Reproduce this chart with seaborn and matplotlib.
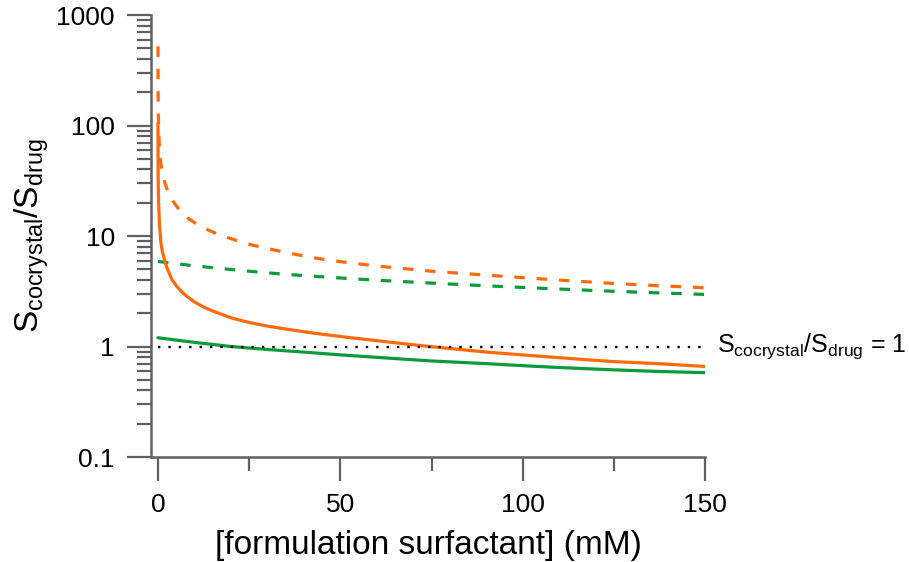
import matplotlib
matplotlib.use("Agg")
import matplotlib.pyplot as plt
import matplotlib.ticker as mticker
import matplotlib.transforms as mtransforms
import numpy as np
import seaborn as sns

# Surfactant concentration (mM) and solubility ratios for each curve
orange_solid_x = [0.005, 0.02, 0.05, 0.1, 0.2, 0.4, 0.8, 1.2, 1.9, 2.5, 3.8, 5,
                  6.5, 8, 10, 12, 14.3, 16, 20, 25, 30, 35, 40, 46, 52, 58, 64,
                  72, 80, 90, 104, 115, 125, 137, 150]
orange_solid_y = [105, 55, 36, 25.5, 18.5, 12.8, 8.7, 7.2, 5.9, 5.1, 4.05, 3.55,
                  3.13, 2.83, 2.53, 2.32, 2.14, 2.04, 1.82, 1.65, 1.53, 1.44, 1.36, 1.28, 1.21, 1.15, 1.09,
                  1.02, 0.96, 0.89, 0.82, 0.77, 0.73, 0.70, 0.66]

orange_dash_x = [0.005, 0.02, 0.05, 0.1, 0.2, 0.4, 0.8, 1.3, 1.9, 3, 4.4, 6,
                 8.3, 11, 13.4, 16, 19, 24.4, 30, 35, 41, 46, 52, 60, 68, 75,
                 87, 100, 112, 125, 137, 150]
orange_dash_y = [520, 270, 175, 125, 90, 63, 45, 36, 30, 24, 20, 17,
                 14.4, 12.6, 11.5, 10.5, 9.7, 8.5, 7.7, 7.1, 6.5, 6.1, 5.75, 5.35, 5.05, 4.8,
                 4.5, 4.2, 3.95, 3.72, 3.55, 3.4]

green_solid_x = [0, 10, 20, 30, 40, 50, 62, 75, 90, 104, 115, 125, 137, 150]
green_solid_y = [1.2, 1.09, 1.0, 0.94, 0.89, 0.84, 0.79, 0.74, 0.70, 0.66, 0.635,
                 0.615, 0.595, 0.58]

green_dash_x = [0, 10, 18, 25, 35, 48, 60, 75, 88, 102, 115, 125, 137, 150]
green_dash_y = [5.88, 5.37, 5.05, 4.8, 4.5, 4.21, 3.98, 3.75, 3.57, 3.4, 3.26,
                3.16, 3.06, 2.96]

unity_x = [0, 150]
unity_y = [1, 1]

x_ticks = [0, 50, 100, 150]
x_minor = [25, 75, 125]
y_ticks = [0.1, 1, 10, 100, 1000]
y_ticklabels = ["0.1", "1", "10", "100", "1000"]

ORANGE = "#ff6a0a"
GREEN = "#0d9a3a"
AXIS_GREY = "#606060"

sns.set_theme(style="ticks")
plt.rcParams["font.family"] = ["Liberation Sans", "DejaVu Sans"]
plt.rcParams["mathtext.fontset"] = "custom"
plt.rcParams["mathtext.rm"] = "Liberation Sans"
plt.rcParams["mathtext.it"] = "Liberation Sans:italic"
plt.rcParams["text.color"] = "black"
plt.rcParams["axes.labelcolor"] = "black"

fig = plt.figure(figsize=(9.09, 5.62), dpi=100)
ax = fig.add_axes([0.1661, 0.1868, 0.6095, 0.7865])

lw = 2.3
dash = (0, (3.3, 3.7))

sns.lineplot(x=orange_dash_x, y=orange_dash_y, ax=ax, color=ORANGE, lw=lw,
             linestyle=dash, estimator=None)
sns.lineplot(x=green_dash_x, y=green_dash_y, ax=ax, color=GREEN, lw=lw,
             linestyle=dash, estimator=None)
sns.lineplot(x=orange_solid_x, y=orange_solid_y, ax=ax, color=ORANGE, lw=lw,
             estimator=None)
sns.lineplot(x=green_solid_x, y=green_solid_y, ax=ax, color=GREEN, lw=lw,
             estimator=None)
sns.lineplot(x=unity_x, y=unity_y, ax=ax, color="black", lw=1.7,
             linestyle=(0, (1, 3.4)), estimator=None)

ax.set_yscale("log")
ax.set_xlim(-1.92, 150)
ax.set_ylim(0.1, 1000)

ax.set_xticks(x_ticks)
ax.set_xticklabels([str(v) for v in x_ticks])
ax.xaxis.set_minor_locator(mticker.FixedLocator(x_minor))
ax.set_yticks(y_ticks)
ax.set_yticklabels(y_ticklabels)
ax.yaxis.set_minor_locator(mticker.LogLocator(base=10, subs=np.arange(2, 10), numticks=20))
ax.yaxis.set_minor_formatter(mticker.NullFormatter())

for s in ["top", "right"]:
    ax.spines[s].set_visible(False)
for s in ["left", "bottom"]:
    ax.spines[s].set_color(AXIS_GREY)
    ax.spines[s].set_linewidth(1.8)

ax.tick_params(axis="both", which="major", direction="out", length=17, width=1.6,
               color=AXIS_GREY, labelsize=19, labelcolor="black", pad=9)
ax.tick_params(axis="both", which="minor", direction="out", length=10, width=1.6,
               color=AXIS_GREY)

ax.set_xlabel("[formulation surfactant] (mM)", fontsize=24, labelpad=9)
ax.set_ylabel(r"$\mathregular{S_{cocrystal}/S_{drug}}$", fontsize=24, labelpad=4)

trans = mtransforms.blended_transform_factory(ax.transAxes, ax.transData)
ax.text(1.021, 1, r"$\mathregular{S_{cocrystal}/S_{drug}}$ = 1", transform=trans,
        fontsize=18, va="center", ha="left", clip_on=False)

fig.savefig("out.png", dpi=100)
